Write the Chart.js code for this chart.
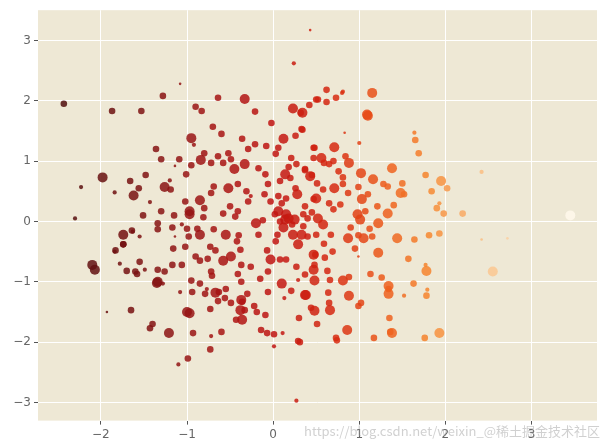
<!DOCTYPE html>
<html>
<head>
<meta charset="utf-8">
<script src="https://cdn.jsdelivr.net/npm/chart.js@4"></script>
<style>
  html, body { margin: 0; padding: 0; background: #fff; }
  #wrap { width: 610px; height: 445px; position: relative; }
</style>
</head>
<body>
<div id="wrap"><canvas id="chart"></canvas></div>
<script>
// x, y and size class (1 tiny .. 4 big) of every dot
const xs = [
  -2.43,-1.87,-2.30,-2.23,-1.98,-2.10,-2.07,-1.93,-1.65,-1.43,-1.40,-1.34,-1.00,-0.99,-1.10,-0.72,0.27,0.43,0.24,1.15,
  0.81,0.62,0.73,1.09,1.64,1.65,1.69,1.95,1.77,2.02,1.84,2.42,3.45,1.93,2.20,2.42,2.72,2.55,1.93,1.76,
  1.35,1.36,1.17,0.86,0.73,1.52,1.79,1.77,1.34,1.02,0.44,0.30,-0.07,0.01,0.11,-0.43,-0.38,-0.36,-0.22,-0.56,
  -0.63,-0.77,-0.71,-0.85,-0.94,-1.08,-1.26,-1.28,-1.58,-1.49,-1.70,-1.78,-1.84,-1.74,-1.63,-1.55,-1.34,-1.17,-1.06,-0.88,
  -0.83,-1.53,-1.28,-1.08,-0.90,-0.64,-0.33,-0.21,0.23,0.32,-0.02,-0.70,-0.60,-0.95,-0.92,-1.36,-1.30,-1.09,-1.14,-1.01,
  -0.95,-0.84,-0.72,-0.80,-0.64,-0.52,-0.49,-0.36,-0.29,-0.21,-0.33,-0.45,-0.58,-1.66,-1.48,-1.84,-1.62,-1.56,-1.43,-1.26,
  -1.19,-1.20,-1.02,-0.85,-0.97,-1.30,-1.51,-1.15,-0.80,-0.72,-0.52,-0.69,-0.41,-0.31,-0.26,-0.29,-0.41,-0.50,-0.58,-0.17,
  -0.09,-0.06,0.06,-0.03,-0.08,0.06,0.12,0.03,0.21,0.27,0.14,0.20,0.08,0.26,0.33,0.26,0.48,0.47,0.37,0.43,
  0.15,0.37,0.47,0.06,0.15,0.35,0.50,0.62,0.80,0.52,0.42,0.34,1.10,0.83,0.34,1.00,0.71,0.47,0.56,0.59,
  0.70,0.84,0.88,0.65,0.37,0.45,1.02,0.76,0.81,0.51,0.71,0.58,0.81,0.87,0.50,0.65,0.78,0.99,1.03,1.10,
  1.16,1.28,1.33,1.38,1.50,1.48,1.52,1.21,1.40,1.33,0.98,1.07,1.90,1.98,-0.97,-0.81,-0.44,-1.74,-1.64,-1.83,
  -1.74,-1.60,-1.55,-1.34,-1.35,-1.17,-1.06,-1.34,-1.14,-1.16,-1.02,-0.98,-0.85,-1.00,-0.69,-0.55,-0.40,-0.42,-0.73,-0.67,
  -0.90,-0.85,-0.76,-0.72,-0.58,-0.49,-0.38,-0.37,-0.41,-0.26,-0.37,-0.95,-0.79,-0.67,-0.64,-0.55,-0.49,-0.37,-0.30,-0.33,
  -0.36,-0.73,-0.97,-1.21,-0.93,-0.60,-0.73,-0.19,-0.09,-0.14,0.01,0.29,-0.07,-0.03,0.08,0.15,-0.06,0.10,0.13,-0.06,
  0.21,0.29,0.38,0.27,0.37,0.47,-0.20,-0.17,0.05,0.14,0.23,0.33,0.29,0.49,0.03,0.40,0.50,0.59,0.67,0.87,
  0.99,1.05,1.15,1.01,1.22,1.44,1.64,1.81,1.93,0.47,0.69,0.99,1.22,1.57,0.48,0.63,0.66,0.48,0.81,0.88,
  1.13,1.26,1.34,1.34,1.63,1.78,1.78,0.37,0.64,0.65,0.66,0.88,0.99,0.48,0.51,1.38,0.74,0.31,0.18,0.08,
  0.25,0.40,0.52,0.22,0.12,-0.12,0.02,0.35,0.58,0.90,0.10,0.28,-0.10,0.18,0.45,0.70,1.12,0.95,0.60,-0.15
];
const ys = [
  1.95,1.83,0.05,0.57,0.73,-0.72,-0.80,-1.50,-1.47,-1.77,-1.70,-1.00,-1.50,-2.27,-2.37,-1.90,-2.97,3.17,2.62,2.13,
  2.15,1.98,2.05,1.77,1.47,1.35,1.13,0.67,0.77,0.55,0.50,0.82,0.10,0.30,0.13,-0.30,-0.28,-0.83,-1.85,-1.93,
  -1.60,-1.83,-1.93,-1.80,-1.93,-1.23,-1.13,-0.72,-1.12,-1.35,-1.43,-1.60,-1.85,-2.07,-1.85,-1.63,-1.47,-1.33,-1.40,-1.27,
  -1.17,-1.12,-0.90,-1.03,-1.17,-1.17,-0.83,-1.03,-0.87,-0.80,-0.82,-0.70,-0.50,-0.38,-0.17,-0.25,-0.13,-0.10,-0.05,-0.12,
  1.83,1.83,2.08,2.28,1.90,2.05,2.03,1.82,1.87,1.80,1.63,1.57,1.45,1.38,1.27,1.20,1.03,1.03,0.92,0.78,
  0.93,1.02,0.97,1.13,1.08,1.13,1.03,1.37,1.20,1.28,0.95,0.87,0.97,0.67,0.77,0.48,0.43,0.55,0.32,0.57,
  0.53,0.68,0.33,0.35,0.17,0.17,0.10,0.10,0.22,0.47,0.55,0.58,0.62,0.50,0.42,0.33,0.17,0.25,0.13,0.88,
  0.78,0.62,0.42,0.33,1.25,1.22,1.37,1.12,1.05,0.95,0.78,0.72,0.67,0.55,1.53,1.42,1.22,1.05,0.87,0.75,
  0.38,0.25,0.37,0.17,0.12,0.12,2.02,2.18,2.13,2.02,1.93,1.52,1.75,1.47,1.80,1.30,1.23,1.22,1.05,0.97,
  1.00,1.08,0.97,0.95,0.85,0.77,0.80,0.83,0.73,0.63,0.55,0.53,0.62,0.47,0.38,0.30,0.28,0.57,0.37,0.45,
  0.70,0.62,0.58,0.88,0.63,0.47,0.45,0.25,0.27,0.13,0.12,0.17,0.22,0.13,0.12,0.07,0.08,-0.22,-0.15,-0.48,
  -0.38,-0.83,-0.67,-0.80,-1.02,-0.72,-0.72,-0.03,-0.25,-0.45,-0.42,-0.25,-0.22,-0.12,-0.13,-0.22,-0.23,-0.33,-0.42,-0.48,
  -0.58,-0.65,-0.62,-0.83,-0.65,-0.58,-0.47,-0.72,-0.87,-0.75,-1.00,-0.98,-1.20,-1.18,-1.32,-1.12,-1.35,-1.30,-1.20,-1.47,
  -1.63,-1.45,-1.52,-1.85,-1.85,-1.83,-2.12,-1.50,-1.55,-1.80,-1.87,-1.98,-0.48,-0.63,-0.63,-0.63,-0.83,-1.03,-1.27,-1.17,
  -1.15,-0.97,-1.22,-0.75,-0.88,-0.80,-0.03,-0.22,-0.22,0.03,-0.22,-0.22,-0.38,-0.55,-0.33,-0.25,-0.22,-0.37,-0.22,-0.28,
  -0.23,-0.28,-0.25,0.03,-0.03,-0.28,-0.30,-0.23,-0.20,-0.55,-0.50,-0.58,-0.52,-0.62,-0.72,-0.82,-0.97,-0.98,-0.98,-0.92,
  -0.87,-0.93,-1.07,-1.20,-1.03,-0.82,-1.23,-1.22,-1.18,-1.35,-1.47,-1.23,-1.40,-1.48,-1.70,-1.85,-1.97,-2.00,0.05,0.00,
  0.03,0.05,0.05,-0.05,-0.10,0.02,0.12,-0.08,-0.05,-0.10,0.30,0.45,0.45,0.90,0.15,0.20,-0.12,-0.45,-0.60,-0.95
];
const sz = [
  3,3,2,2,4,4,4,1,3,3,3,4,4,3,2,2,2,1,2,4,
  2,3,3,4,2,3,3,4,3,3,3,2,4,2,3,1,1,4,4,3,
  3,3,3,4,3,2,2,2,3,3,3,3,3,2,2,3,4,3,3,3,
  3,2,3,3,3,2,3,2,3,2,3,2,2,3,2,2,3,3,2,3,
  3,3,3,1,3,3,4,3,4,3,3,3,3,4,2,3,3,3,1,3,
  3,4,3,3,3,3,3,3,3,3,4,4,3,3,3,2,4,3,2,4,
  3,2,3,4,4,3,3,3,3,3,4,3,3,3,2,3,3,3,3,3,
  3,3,3,3,3,3,4,3,3,3,4,3,3,3,3,3,3,3,3,4,
  3,3,3,4,4,3,3,3,2,3,3,3,4,1,4,2,4,3,4,3,
  3,3,4,3,3,3,4,3,3,3,4,3,3,3,4,3,3,3,4,3,
  4,3,3,4,3,4,3,3,3,4,4,3,3,3,4,3,3,4,3,3,
  3,3,3,3,4,3,3,3,1,3,3,3,4,3,3,4,3,3,3,3,
  3,3,3,3,4,4,3,3,3,3,3,3,3,4,3,3,3,4,3,3,
  4,3,4,4,3,3,3,3,3,3,3,3,3,4,3,3,3,4,2,3,
  3,2,4,3,3,4,4,3,3,4,4,4,4,3,3,3,3,3,3,4,
  3,4,3,4,4,4,3,3,3,4,3,1,4,3,3,3,3,4,4,3,
  3,3,4,4,3,4,3,4,3,3,4,4,3,4,3,4,3,3,4,3,
  4,3,4,3,4,3,3,3,4,3,3,4,3,3,3,3,3,3,3,3
];
const xTicks = [-2, -1, 0, 1, 2, 3];
const yTicks = [-3, -2, -1, 0, 1, 2, 3];

const radiusFor = { 1: 1.3, 2: 2.1, 3: 3.3, 4: 5.0 };

// dark red on the left, through red and orange, to almost white on the right
const stops = [
  [-2.5, [78, 14, 14]], [-1.0, [150, 20, 20]], [0.0, [192, 20, 18]], [0.7, [214, 40, 16]],
  [1.2, [234, 84, 24]], [1.8, [246, 134, 46]], [2.5, [250, 196, 140]], [3.5, [255, 251, 240]]
];
function colorFor(x) {
  if (x <= stops[0][0]) return stops[0][1];
  for (let i = 1; i < stops.length; i++) {
    if (x <= stops[i][0]) {
      const t = (x - stops[i - 1][0]) / (stops[i][0] - stops[i - 1][0]);
      return stops[i - 1][1].map((c, k) => Math.round(c + t * (stops[i][1][k] - c)));
    }
  }
  return stops[stops.length - 1][1];
}

const points = xs.map((x, i) => ({ x: x, y: ys[i] }));
const colors = xs.map(x => { const c = colorFor(x); return `rgba(${c[0]},${c[1]},${c[2]},0.85)`; });

const background = {
  id: 'background',
  beforeDraw(chart) {
    const { ctx, chartArea: a } = chart;
    ctx.save();
    ctx.fillStyle = '#eee8d5';
    ctx.fillRect(a.left, a.top, a.right - a.left, a.bottom - a.top);
    ctx.restore();
  },
  afterDraw(chart) {
    const ctx = chart.ctx;
    ctx.save();
    ctx.font = '13px "Noto Sans CJK SC", sans-serif';
    ctx.fillStyle = 'rgba(150,150,150,0.45)';
    ctx.textAlign = 'right';
    ctx.fillText('https://blog.csdn.net/weixin_@稀土掘金技术社区', 600, 436);
    ctx.restore();
  }
};

new Chart(document.getElementById('chart'), {
  type: 'scatter',
  data: {
    datasets: [{
      data: points,
      backgroundColor: colors,
      borderWidth: 0,
      pointRadius: sz.map(s => radiusFor[s]),
      pointHoverRadius: sz.map(s => radiusFor[s])
    }]
  },
  options: {
    responsive: true,
    maintainAspectRatio: false,
    animation: false,
    layout: { padding: { top: 10, right: 13, left: 0, bottom: 0 } },
    plugins: { legend: { display: false }, tooltip: { enabled: false } },
    scales: {
      x: {
        min: -2.73, max: 3.76,
        afterBuildTicks: axis => { axis.ticks = xTicks.map(v => ({ value: v })); },
        grid: { color: '#ffffff', lineWidth: 1, tickColor: '#555', tickLength: 4, drawOnChartArea: true },
        border: { display: false },
        ticks: { color: '#666', font: { size: 12, family: 'DejaVu Sans' }, callback: v => String(v).replace('-', '\u2212') }
      },
      y: {
        min: -3.3, max: 3.5,
        afterBuildTicks: axis => { axis.ticks = yTicks.map(v => ({ value: v })); },
        afterFit: axis => { axis.width = 38; },
        grid: { color: '#ffffff', lineWidth: 1, tickColor: '#555', tickLength: 4 },
        border: { display: false },
        ticks: { color: '#666', font: { size: 12, family: 'DejaVu Sans' }, callback: v => String(v).replace('-', '\u2212') }
      }
    }
  },
  plugins: [background]
});
</script>
</body>
</html>
